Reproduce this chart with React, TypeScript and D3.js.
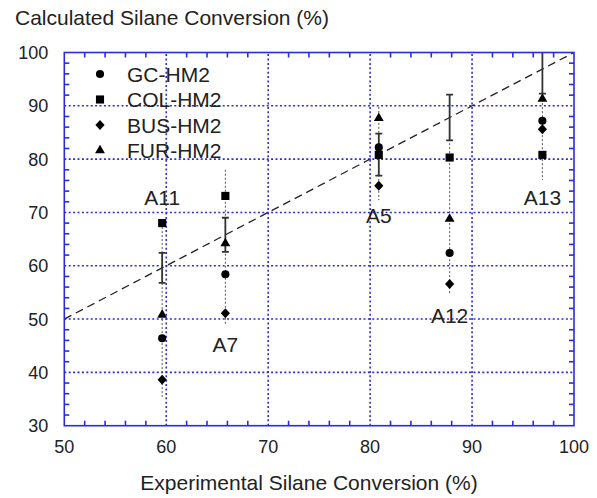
import * as d3 from 'd3'
import { FC, useRef, useEffect } from 'react'

// sample names and experimental silane conversion (%)
const samples = ['A11', 'A7', 'A5', 'A12', 'A13']
const experimental = [59.6, 65.8, 80.85, 87.8, 96.9]
const expError = [2.8, 3.2, 3.95, 4.3, 4.6]

// calculated conversion per model
const gcHm2 = [46.4, 58.4, 82.2, 62.4, 87.2]
const colHm2 = [68.0, 73.1, 80.8, 80.3, 80.8]
const busHm2 = [38.6, 51.1, 75.0, 56.6, 85.6]
const furHm2 = [50.8, 64.2, 87.7, 68.8, 91.3]

const xTicks = [50, 60, 70, 80, 90, 100]
const yTicks = [30, 40, 50, 60, 70, 80, 90, 100]

// where the sample labels and the grey guide lines sit (data units)
const labelY = [71.4, 43.8, 68.0, 49.3, 71.4]
const guideTop = [68.0, 78.0, 89.8, 92.0, 92.0]
const guideBottom = [35.4, 48.9, 72.3, 54.5, 76.1]

type Series = { name: string, values: number[], symbol: string }

const series: Series[] = [
    { name: 'GC-HM2', values: gcHm2, symbol: 'circle' },
    { name: 'COL-HM2', values: colHm2, symbol: 'square' },
    { name: 'BUS-HM2', values: busHm2, symbol: 'diamond' },
    { name: 'FUR-HM2', values: furHm2, symbol: 'triangle' },
]

const FONT = 'Liberation Sans, Arial, Helvetica, sans-serif'
const BLUE = '#2b2be6'

const symbolPath = (kind: string) => {
    if (kind === 'circle') return d3.symbol(d3.symbolCircle, 52)()
    if (kind === 'square') return d3.symbol(d3.symbolSquare, 66)()
    if (kind === 'triangle') return d3.symbol(d3.symbolTriangle, 42)()
    // square diamond
    return 'M0,-5L4.6,0L0,5L-4.6,0Z'
}

export const SilaneChart: FC = () => {
    const svgRef = useRef<SVGSVGElement>(null)
    const dimensions = { width: 597, height: 498 }
    const margin = { left: 64.3, right: 23, top: 52.5, bottom: 72.3 }

    useEffect(() => {
        const svg = d3.select(svgRef.current)
        svg.selectAll('*').remove()

        const x = d3.scaleLinear()
            .domain([50, 100])
            .range([margin.left, dimensions.width - margin.right])
        const y = d3.scaleLinear()
            .domain([30, 100])
            .range([dimensions.height - margin.bottom, margin.top])

        const [x0, x1] = x.range()
        const [y0, y1] = y.range()

        svg.append('defs').append('clipPath').attr('id', 'plot-clip')
            .append('rect')
            .attr('x', x0).attr('y', y1)
            .attr('width', x1 - x0).attr('height', y0 - y1)

        /**
         * dotted blue grid
         */
        const grid = svg.append('g')
            .attr('stroke', BLUE)
            .attr('stroke-width', 1.6)
            .attr('stroke-dasharray', '2,2.4')
        grid.selectAll('line.gx')
            .data(xTicks.slice(1, -1))
            .enter()
            .append('line')
            .attr('x1', d => x(d)).attr('x2', d => x(d))
            .attr('y1', y0).attr('y2', y1)
        grid.selectAll('line.gy')
            .data(yTicks.slice(1, -1))
            .enter()
            .append('line')
            .attr('y1', d => y(d)).attr('y2', d => y(d))
            .attr('x1', x0).attr('x2', x1)

        /**
         * grey guide lines through each sample
         */
        svg.append('g')
            .selectAll('line')
            .data(samples)
            .enter()
            .append('line')
            .attr('x1', (_, i) => x(experimental[i]))
            .attr('x2', (_, i) => x(experimental[i]))
            .attr('y1', (_, i) => y(guideTop[i]))
            .attr('y2', (_, i) => y(guideBottom[i]))
            .attr('stroke', '#555')
            .attr('stroke-width', 1)
            .attr('stroke-dasharray', '2,2')

        // y = x line
        svg.append('line')
            .attr('x1', x(50)).attr('y1', y(50))
            .attr('x2', x(100)).attr('y2', y(100))
            .attr('stroke', '#222')
            .attr('stroke-width', 1.3)
            .attr('stroke-dasharray', '8,5')

        /**
         * error bars on the experimental value
         */
        const bars = svg.append('g')
            .attr('clip-path', 'url(#plot-clip)')
            .attr('stroke', '#333')
            .attr('stroke-width', 1.8)
        samples.forEach((_, i) => {
            const cx = x(experimental[i])
            const top = y(experimental[i] + expError[i])
            const bottom = y(experimental[i] - expError[i])
            bars.append('line').attr('x1', cx).attr('x2', cx).attr('y1', top).attr('y2', bottom)
            bars.append('line').attr('x1', cx - 3.5).attr('x2', cx + 3.5).attr('y1', top).attr('y2', top)
            bars.append('line').attr('x1', cx - 3.5).attr('x2', cx + 3.5).attr('y1', bottom).attr('y2', bottom)
        })

        /**
         * markers
         */
        series.forEach((s) => {
            svg.append('g')
                .selectAll('path')
                .data(s.values)
                .enter()
                .append('path')
                .attr('d', symbolPath(s.symbol))
                .attr('transform', (d, i) => `translate(${x(experimental[i])},${y(d)})`)
                .attr('fill', '#000')
        })

        /**
         * frame and inward minor ticks on all sides
         */
        const frame = svg.append('g').attr('stroke', BLUE).attr('stroke-width', 1.6)
        frame.append('rect')
            .attr('x', x0).attr('y', y1)
            .attr('width', x1 - x0).attr('height', y0 - y1)
            .attr('fill', 'none')
        const minorX = d3.range(52, 100, 2).filter(v => v % 10 !== 0)
        const minorY = d3.range(32, 100, 2).filter(v => v % 10 !== 0)
        minorX.forEach(v => {
            frame.append('line').attr('x1', x(v)).attr('x2', x(v)).attr('y1', y0).attr('y2', y0 - 5)
            frame.append('line').attr('x1', x(v)).attr('x2', x(v)).attr('y1', y1).attr('y2', y1 + 5)
        })
        minorY.forEach(v => {
            frame.append('line').attr('y1', y(v)).attr('y2', y(v)).attr('x1', x0).attr('x2', x0 + 5)
            frame.append('line').attr('y1', y(v)).attr('y2', y(v)).attr('x1', x1).attr('x2', x1 - 5)
        })

        /**
         * tick labels
         */
        svg.append('g')
            .selectAll('text')
            .data(xTicks)
            .enter()
            .append('text')
            .attr('x', d => x(d))
            .attr('y', y0 + 27)
            .attr('text-anchor', 'middle')
            .attr('font-size', 18)
            .attr('font-family', FONT)
            .attr('fill', '#222')
            .text(d => d)
        svg.append('g')
            .selectAll('text')
            .data(yTicks)
            .enter()
            .append('text')
            .attr('x', x0 - 16)
            .attr('y', d => y(d) + 6.5)
            .attr('text-anchor', 'end')
            .attr('font-size', 18)
            .attr('font-family', FONT)
            .attr('fill', '#222')
            .text(d => d)

        // axis titles
        svg.append('text')
            .attr('x', 15).attr('y', 25)
            .attr('font-size', 21)
            .attr('font-family', FONT)
            .attr('fill', '#222')
            .text('Calculated Silane Conversion (%)')
        svg.append('text')
            .attr('x', 309).attr('y', 490)
            .attr('text-anchor', 'middle')
            .attr('font-size', 21)
            .attr('font-family', FONT)
            .attr('fill', '#222')
            .text('Experimental Silane Conversion (%)')

        /**
         * sample labels
         */
        svg.append('g')
            .selectAll('text')
            .data(samples)
            .enter()
            .append('text')
            .attr('x', (_, i) => x(experimental[i]))
            .attr('y', (_, i) => y(labelY[i]))
            .attr('text-anchor', 'middle')
            .attr('font-size', 21)
            .attr('font-family', FONT)
            .attr('fill', '#222')
            .text(d => d)

        /**
         * legend
         */
        const legend = svg.append('g')
        series.forEach((s, i) => {
            const ly = 74 + i * 25.5
            legend.append('path')
                .attr('d', symbolPath(s.symbol))
                .attr('transform', `translate(100,${ly})`)
                .attr('fill', '#000')
            legend.append('text')
                .attr('x', 127)
                .attr('y', ly + 7.5)
                .attr('font-size', 21)
                .attr('font-family', FONT)
                .attr('fill', '#222')
                .text(s.name)
        })
    }, [])

    return (
        <svg
            ref={svgRef}
            width={dimensions.width}
            height={dimensions.height}
            style={{ position: 'absolute', left: 0, top: 0, background: '#fff' }}
        />
    )
}

export default function App() {
    return <SilaneChart />
}
